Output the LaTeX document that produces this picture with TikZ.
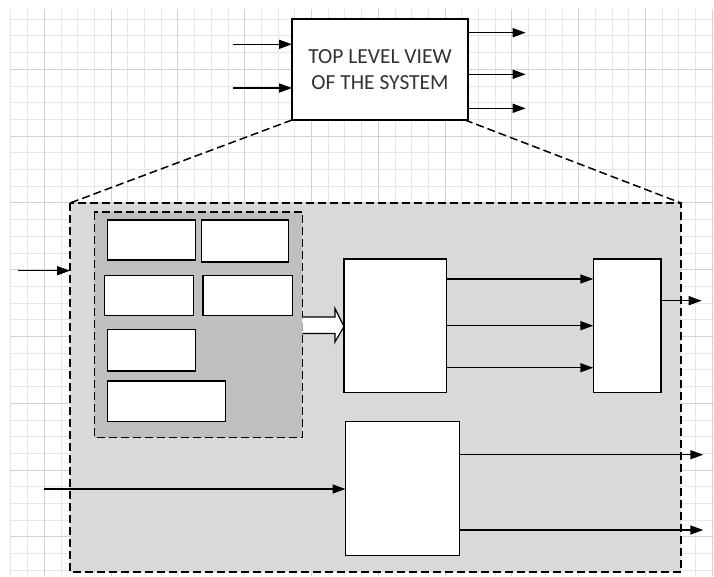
\documentclass[tikz,border=0pt]{standalone}
\usepackage{fontspec}
\setmainfont{Carlito}
\usetikzlibrary{arrows.meta,calc}
\definecolor{gridminor}{HTML}{E6E6E6}
\definecolor{gridmajor}{HTML}{D2D2D2}
\definecolor{outerfill}{HTML}{D9D9D9}
\definecolor{innerfill}{HTML}{BFBFBF}
\definecolor{txt}{HTML}{333333}
\begin{document}
\begin{tikzpicture}[x=1pt,y=-1pt,
  box/.style={draw=black,line width=1.5pt,fill=white,rectangle,inner sep=0pt,outer sep=0pt,anchor=north west},
  arr/.style={line width=1.5pt,-{Triangle[length=13pt,width=9pt]}},
  dsh/.style={line width=1.5pt,dash pattern=on 8pt off 4pt},
  gmin/.style={draw=gridminor,line width=0.9pt},
  gmaj/.style={draw=gridmajor,line width=1pt}]
\useasboundingbox (0,0) rectangle (714,576);
\fill[white] (0,0) rectangle (714,576);
% grid
\begin{scope}
  \clip (10,9) rectangle (714,576);
  \foreach \i in {0,...,42} \draw[gmin] (10.9+\i*16.7,0) -- ++(0,576);
  \foreach \j in {0,...,35} \draw[gmin] (0,2.5+\j*16.7) -- ++(714,0);
  \foreach \i in {0,...,10} \draw[gmaj] (44.3+\i*66.8,0) -- ++(0,576);
  \foreach \j in {-1,...,8} \draw[gmaj] (0,69.3+\j*66.8) -- ++(714,0);
\end{scope}
% top box
\node[box,minimum width=176pt,minimum height=101pt,align=center,text=txt,
  font=\fontsize{21.5}{25.7}\selectfont] (top) at (292,19) {TOP LEVEL VIEW\\OF THE SYSTEM};
% big dashed box
\node[box,fill=outerfill,draw=none,minimum width=611pt,minimum height=369pt] (big) at (70,203) {};
\draw[dsh] (big.north west) rectangle (big.south east);
% dashed projection lines
\draw[dsh] (top.south west) -- (big.north west);
\draw[dsh] ($(top.south east)+(-3,0)$) -- (big.north east);
% inner dashed box
\node[box,fill=innerfill,draw=none,minimum width=208pt,minimum height=225.7pt] (inner) at (94.3,212) {};
\draw[dsh] (inner.north west) rectangle (inner.south east);
% small boxes
\node[box,minimum width=88pt,minimum height=40pt] (s1) at (107.3,220) {};
\node[box,minimum width=87.4pt,minimum height=42pt] (s2) at (201.3,220) {};
\node[box,minimum width=89pt,minimum height=40.4pt] (s3) at (104.3,275.3) {};
\node[box,minimum width=89.3pt,minimum height=40.4pt] (s4) at (203,275.3) {};
\node[box,minimum width=88pt,minimum height=41.7pt] (s5) at (107.3,329.3) {};
\node[box,minimum width=118pt,minimum height=40.7pt] (s6) at (107.3,381) {};
% main blocks
\node[box,minimum width=102.5pt,minimum height=133.5pt] (m1) at (344,259) {};
\node[box,minimum width=67.7pt,minimum height=133.7pt] (r) at (593.3,259) {};
\node[box,minimum width=114pt,minimum height=134pt] (m2) at (345.5,421.7) {};
% block arrow from inner box to m1
\fill[white] ($(inner.east|-m1.west)+(0,-8.8)$) coordinate (ba1) -- ++(32.7,0) -- ++(0,-8.4)
  -- (m1.west|-{0,326.5}) -- ($(ba1)+(32.7,25)$) -- ++(0,-8.4) -- ($(ba1)+(0,16.6)$) -- cycle;
\draw[line width=1.2pt,line join=miter] (ba1) -- ++(32.7,0) -- ++(0,-8.4)
  -- (m1.west|-{0,326.5}) -- ($(ba1)+(32.7,25)$) -- ++(0,-8.4) -- ($(ba1)+(0,16.6)$);
% arrows top
\coordinate (ti1) at (233,44.3);
\coordinate (ti2) at (233,88);
\draw[arr] (ti1) -- (top.west|-ti1);
\draw[arr] (ti2) -- (top.west|-ti2);
\coordinate (to1) at (525.7,32.7);
\coordinate (to2) at (525.7,74.3);
\coordinate (to3) at (525.7,108.3);
\draw[arr] (top.east|-to1) -- (to1);
\draw[arr] (top.east|-to2) -- (to2);
\draw[arr] (top.east|-to3) -- (to3);
% input to big box
\coordinate (bi) at (18.3,270.7);
\draw[arr] (bi) -- (big.west|-bi);
% m1 to r
\coordinate (y1) at (0,279);
\coordinate (y2) at (0,325.7);
\coordinate (y3) at (0,367.7);
\draw[arr] (m1.east|-y1) -- (r.west|-y1);
\draw[arr] (m1.east|-y2) -- (r.west|-y2);
\draw[arr] (m1.east|-y3) -- (r.west|-y3);
% r out
\coordinate (ro) at (701.7,300.7);
\draw[arr] (r.east|-ro) -- (ro);
% m2 in / out
\coordinate (mi) at (44.3,489);
\draw[arr] (mi) -- (m2.west|-mi);
\coordinate (mo1) at (703.3,454.7);
\coordinate (mo2) at (703.3,530);
\draw[arr] (m2.east|-mo1) -- (mo1);
\draw[arr] (m2.east|-mo2) -- (mo2);
\end{tikzpicture}
\end{document}
